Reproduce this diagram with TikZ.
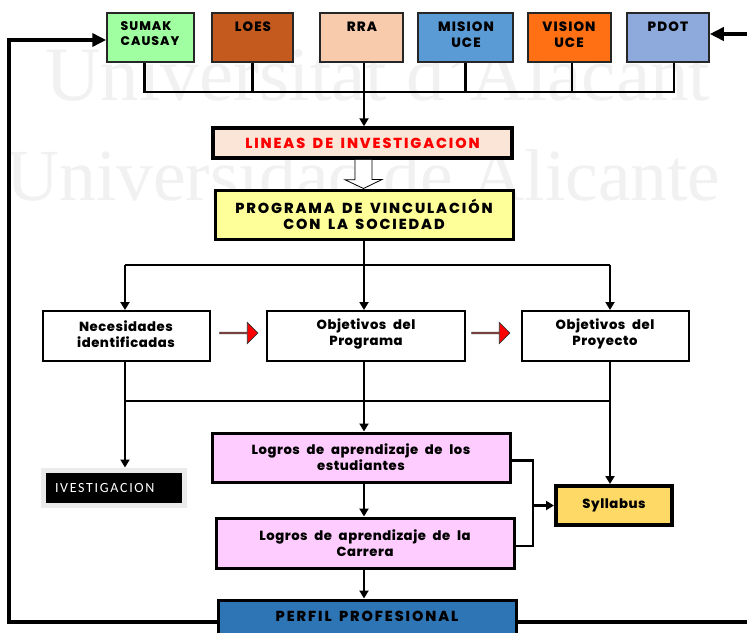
\documentclass[tikz,border=0pt]{standalone}
\usepackage{fontspec}
\usetikzlibrary{arrows.meta,shapes.arrows,calc}
\newfontfamily\gfont{Poppins ExtraBold}[LetterSpace=4,WordSpace=2.2]
\newfontfamily\gcapfont{Poppins ExtraBold}[LetterSpace=8]
\newfontfamily\gwidefont{Poppins ExtraBold}[LetterSpace=13,WordSpace=1.6]
\newfontfamily\cfont{Carlito}[LetterSpace=12]
\newfontfamily\wfont{Liberation Serif}
\definecolor{cSumak}{HTML}{A0FFA0}
\definecolor{cLoes}{HTML}{C55A1E}
\definecolor{cRra}{HTML}{F8CBAD}
\definecolor{cMision}{HTML}{5B9BD5}
\definecolor{cVision}{HTML}{FF7015}
\definecolor{cPdot}{HTML}{8EA9DB}
\definecolor{cLineas}{HTML}{FBE5D6}
\definecolor{cProg}{HTML}{FFFF99}
\definecolor{cLogros}{HTML}{FFCCFF}
\definecolor{cSyl}{HTML}{FFD966}
\definecolor{cPerfil}{HTML}{2E75B6}
\definecolor{cWm}{HTML}{F1F1F1}
\tikzset{
  txt/.style={font=\gfont\fontsize{13.2}{16}\selectfont, align=center, inner sep=0pt},
  captxt/.style={font=\gcapfont\fontsize{13.5}{16}\selectfont, align=center, inner sep=0pt},
  widetxt/.style={font=\gwidefont\fontsize{14.5}{16.5}\selectfont, align=center, inner sep=0pt},
  topbox/.style={draw=black!85, line width=1.5pt, inner sep=0pt, minimum height=49pt},
  midbox/.style={draw=black, line width=2pt, fill=white, inner sep=0pt, minimum height=50pt},
  thickbox/.style={draw=black, line width=3pt, inner sep=0pt},
  conn/.style={line width=2.8pt, black},
  arr/.style={conn, -{Triangle[length=8pt,width=9pt]}},
  fb/.style={line width=4pt, black},
  fbarr/.style={fb, -{Triangle[length=14pt,width=13pt]}},
  redarr/.style={single arrow, draw=black!80, line width=0.8pt, fill=red, minimum height=38pt, minimum width=21pt, single arrow head extend=6pt, single arrow tip angle=90, inner sep=0pt},
  wm/.style={font=\wfont\fontsize{77}{77}\selectfont, text=cWm, inner sep=0pt, anchor=base west}
}
\begin{document}
\begin{tikzpicture}[x=1pt,y=-1pt]
\clip (0,0) rectangle (747,632);
\fill[white] (0,0) rectangle (747,632);
% watermark
\node[wm] (wm1) at (45,100) {Universitat d’Alacant};
\node[wm, font=\wfont\fontsize{73.5}{74}\selectfont] (wm2) at (6,200) {Universidad de Alicante};
% top boxes
\node[topbox, fill=cSumak, minimum width=87pt] (sumak) at (150.5,37.5) {};
\node[topbox, fill=cLoes, minimum width=81pt] (loes) at (252.5,37.5) {};
\node[topbox, fill=cRra, minimum width=83pt] (rra) at (361.5,37.5) {};
\node[topbox, fill=cMision, minimum width=95pt] (mision) at (465.5,37.5) {};
\node[topbox, fill=cVision, minimum width=83pt] (vision) at (569.5,37.5) {};
\node[topbox, fill=cPdot, minimum width=82pt] (pdot) at (668,37.5) {};
\node[captxt, align=left, font=\gcapfont\fontsize{12.5}{15}\selectfont] (tsumak) at (150,34) {SUMAK\\CAUSAY};
\node[captxt] (tloes) at (253,27) {LOES};
\node[captxt] (trra) at (362,27) {RRA};
\node[captxt] (tmision) at (466,35) {MISION\\UCE};
\node[captxt] (tvision) at (569,35) {VISION\\UCE};
\node[captxt] (tpdot) at (668,27) {PDOT};
% bus
\coordinate (busy) at (0,92);
\coordinate (b1) at ([xshift=-6pt]sumak.south |- busy);
\coordinate (b3) at ([xshift=2.5pt]rra.south |- busy);
\coordinate (b6) at ([xshift=6pt]pdot.south |- busy);
\draw[conn] ([xshift=-6pt]sumak.south) -- (b1) -- (b6) -- ([xshift=6pt]pdot.south);
\draw[conn] (loes.south) -- (loes.south |- busy);
\draw[conn] ([xshift=2.5pt]rra.south) -- (b3);
\draw[conn] (mision.south) -- (mision.south |- busy);
\draw[conn] ([xshift=2.5pt]vision.south) -- ([xshift=2.5pt]vision.south |- busy);
% lineas
\node[thickbox, line width=3.5pt, fill=cLineas, minimum width=299pt, minimum height=30pt, widetxt, text=red] (lin) at (362.5,143) {LINEAS DE INVESTIGACION};
\draw[arr] (b3) -- (b3 |- lin.north);
% programa
\node[thickbox, fill=cProg, minimum width=298pt, minimum height=49pt, widetxt] (prog) at (364,214.5) {PROGRAMA DE VINCULACIÓN\\CON LA SOCIEDAD};
% hollow arrow
\coordinate (hx) at (363.5,0);
\draw[line width=0.8pt, fill=white] ([xshift=-8.5pt]hx |- lin.south) -- ++(0,20) -- ++(-10,0) -- (hx |- prog.north) -- ++(18.5,-9) -- ++(-10,0) -- ([xshift=8.5pt]hx |- lin.south);
% split
\coordinate (sy) at (0,265);
\coordinate (cx) at (364,0);
\node[midbox, minimum width=167pt] (nec) at (126.5,336) {};
\node[midbox, minimum width=198pt] (objp) at (366,336) {};
\node[midbox, minimum width=167pt] (objy) at (605.5,336) {};
\node[txt] (tnec) at (126,334) {Necesidades\\identificadas};
\node[txt] (tobjp) at (366,334) {Objetivos del\\Programa};
\node[txt] (tobjy) at (605,334) {Objetivos del\\Proyecto};
\coordinate (s1) at ([xshift=-1.5pt]nec.north |- sy);
\coordinate (s3) at ([xshift=4.5pt]objy.north |- sy);
\draw[conn] (prog.south) -- (prog.south |- sy);
\draw[arr] (cx |- sy) -- (cx |- objp.north);
\draw[arr] (s1) -- (s1 |- nec.north);
\draw[arr] (s3) -- (s3 |- objy.north);
\draw[conn] (s1) -- (s3);
% red arrows
\node[redarr] (ra1) at ($(nec.east)!0.5!(objp.west)+(0,-3)$) {};
\node[redarr] (ra2) at ($(objp.east)!0.5!(objy.west)+(-3,-3)$) {};
% lower
\node[draw=black!8, line width=5pt, fill=black, minimum width=141pt, minimum height=35pt, text width=118pt, align=left, inner sep=0pt, font=\cfont\fontsize{14}{16}\selectfont, text=white] (ivest) at (114,487.5) {IVESTIGACION};
\node[thickbox, fill=cLogros, minimum width=298pt, minimum height=49pt, txt] (l1) at (361,457.5) {Logros de aprendizaje de los\\estudiantes};
\node[thickbox, fill=cLogros, minimum width=298pt, minimum height=50pt, txt] (l2) at (365,543) {Logros de aprendizaje de la\\Carrera};
\node[thickbox, fill=cPerfil, minimum width=298pt, minimum height=36pt, widetxt] (perfil) at (367,618) {\raisebox{4pt}{PERFIL PROFESIONAL}};
\node[thickbox, line width=4pt, fill=cSyl, minimum width=116pt, minimum height=39pt, txt] (syl) at (614,505.5) {Syllabus};
\coordinate (my) at (0,401);
\coordinate (n1) at ([xshift=-1.5pt]nec.south);
\coordinate (p3) at ([xshift=4.5pt]objy.south);
\draw[arr] (n1) -- (n1 |- ivest.north);
\draw[arr] (p3) -- (p3 |- syl.north);
\draw[conn] (n1 |- my) -- (p3 |- my);
\draw[arr] (cx |- objp.south) -- (cx |- l1.north);
\draw[arr] (cx |- l1.south) -- (cx |- l2.north);
\draw[arr] (cx |- l2.south) -- (cx |- perfil.north);
\coordinate (jx) at (533,0);
\draw[conn] ([yshift=-3pt]l1.east) -- ([yshift=-3pt]l1.east -| jx) -- ([yshift=-3pt]l2.east -| jx) -- ([yshift=-3pt]l2.east);
\draw[arr] (jx |- syl.west) -- (syl.west);
% feedback
\coordinate (lx) at (9,0);
\coordinate (rx) at (752,0);
\coordinate (pw) at ([yshift=-4pt]perfil.west);
\coordinate (pe) at ([yshift=-4pt]perfil.east);
\coordinate (sw) at ([yshift=-2.5pt]sumak.west);
\coordinate (pdw) at ([yshift=3.5pt]pdot.east);
\draw[fbarr] (pw) -- (pw -| lx) -- (sw -| lx) -- (sw);
\draw[fb] (pe) -- (pe -| rx);
\draw[fbarr] (pdw -| rx) -- (pdw);
\end{tikzpicture}
\end{document}
